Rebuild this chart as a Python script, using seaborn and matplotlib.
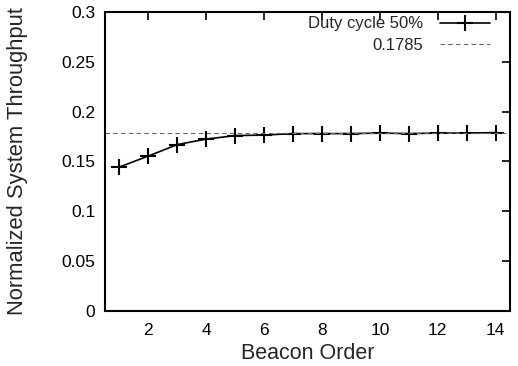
import matplotlib
matplotlib.use("Agg")
import matplotlib.pyplot as plt
import seaborn as sns
import pandas as pd

beacon_order = [1, 2, 3, 4, 5, 6, 7, 8, 9, 10, 11, 12, 13, 14]
throughput = [0.1445, 0.1555, 0.167, 0.1725, 0.176, 0.1765, 0.178, 0.178,
              0.178, 0.1785, 0.178, 0.1785, 0.1785, 0.179]
ref_value = 0.1785
xticks = [2, 4, 6, 8, 10, 12, 14]
yticks = [0, 0.05, 0.1, 0.15, 0.2, 0.25, 0.3]
ytick_labels = ["0", "0.05", "0.1", "0.15", "0.2", "0.25", "0.3"]

sns.set_theme(style="white")
plt.rcParams['font.family'] = ['Liberation Sans', 'DejaVu Sans']

df = pd.DataFrame({"Beacon Order": beacon_order, "thr": throughput})

fig = plt.figure(figsize=(5.18, 3.66), dpi=100)
ax = fig.add_axes([0.2027, 0.1503, 0.782, 0.8169])

sns.lineplot(data=df, x="Beacon Order", y="thr", ax=ax, color="black",
             linewidth=1.2, marker="+", markersize=11, markeredgewidth=1.5,
             markeredgecolor="black", label="Duty cycle 50%")
ax.axhline(ref_value, color="#666666", linestyle=(0, (4, 3)), linewidth=0.8,
           label="0.1785")

ax.set_xlim(0.5, 14.5)
ax.set_ylim(0, 0.3)
ax.set_xticks(xticks)
ax.set_xticklabels([str(t) for t in xticks])
ax.set_yticks(yticks)
ax.set_yticklabels(ytick_labels)
ax.tick_params(direction="in", length=6, width=1.2, top=True, right=True,
               labelsize=12.5, colors="black", pad=7)
ax.tick_params(axis="x", pad=9)
for s in ax.spines.values():
    s.set_linewidth(1.5)
    s.set_color("black")
ax.set_xlabel("Beacon Order", fontsize=15.5, labelpad=3.5)
ax.set_ylabel("Normalized System Throughput", fontsize=15.8)
ax.yaxis.set_label_coords(-0.19, 0.5)

leg = ax.legend(loc="upper right", bbox_to_anchor=(0.9506, 0.985),
                frameon=False, markerfirst=False, fontsize=12,
                handlelength=3.0, borderaxespad=0, borderpad=0,
                labelspacing=0.4, handletextpad=1.0)

fig.savefig("out.png", dpi=100)
